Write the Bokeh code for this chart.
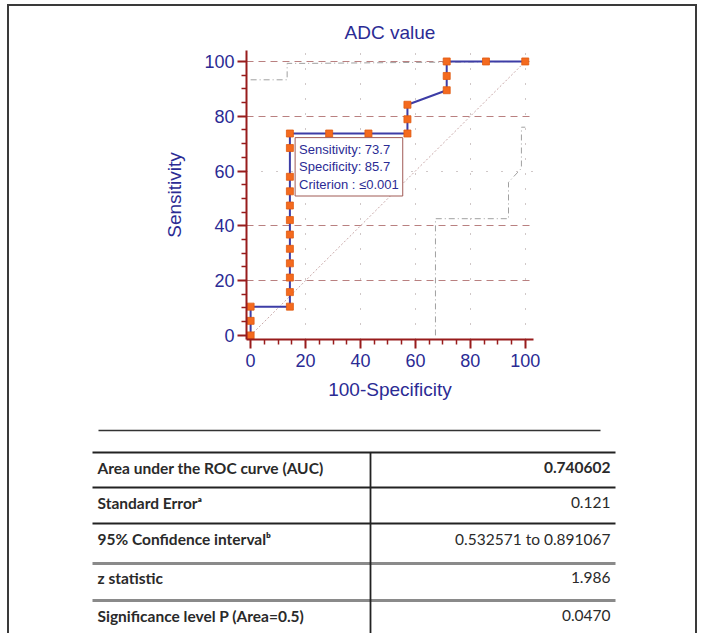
from bokeh.plotting import figure
from bokeh.models import Range1d, FixedTicker, Grid, Label
from bokeh.layouts import column
from bokeh.embed import file_html
from bokeh.resources import INLINE
from bokeh.core.properties import value

# ---------------- data ----------------
title_text = "ADC value"
x_label = "100-Specificity"
y_label = "Sensitivity"

# ROC curve points (100-Specificity, Sensitivity)
roc_x = [0, 0, 0, 14.3, 14.3, 14.3, 14.3, 14.3, 14.3, 14.3, 14.3, 14.3, 14.3, 14.3,
         14.3, 28.6, 42.9, 57.1, 57.1, 57.1, 71.4, 71.4, 71.4, 85.7, 100]
roc_y = [0, 5.3, 10.5, 10.5, 15.8, 21.1, 26.3, 31.6, 36.8, 42.1, 47.4, 52.6, 57.9, 68.4,
         73.7, 73.7, 73.7, 73.7, 78.9, 84.2, 89.5, 94.7, 100, 100, 100]

# confidence bounds (faint)
ci_low_x = [67.3, 67.3, 93.9, 93.9, 98.6, 98.6, 100]
ci_low_y = [0, 42.6, 42.6, 55.9, 61.0, 76.0, 76.0]
ci_up_x = [0, 13.3, 13.3, 21.0, 100]
ci_up_y = [93.3, 93.3, 99.3, 99.3, 100]

diag = [0, 100]
ticks = [0, 20, 40, 60, 80, 100]
minor = [5, 10, 15, 25, 30, 35, 45, 50, 55, 65, 70, 75, 85, 90, 95]
hgrid_dashed = [20, 40, 80, 100]
hgrid_dotted = [60]
vgrid = [20, 40, 60, 80, 100]

best_point = "Sensitivity: 73.7\nSpecificity: 85.7\nCriterion : \u22640.001"

table_labels = ["Area under the ROC curve (AUC)", "Standard Error\u1d43",
                "95% Confidence interval\u1d47", "z statistic",
                "Significance level P (Area=0.5)"]
table_values = ["0.740602", "0.121", "0.532571 to 0.891067", "1.986", "0.0470"]

# ---------------- styles ----------------
BLUE = "#2b2b94"
AXRED = "#981c1c"
CURVE = "#3d3da6"
ORANGE = "#f46a1f"
FONT = "Liberation Sans"

p = figure(width=686, height=414, x_range=Range1d(-1.5, 103), y_range=Range1d(-1.5, 104),
           output_backend="svg", toolbar_location=None, frame_align=False,
           min_border_left=237, min_border_right=162, min_border_top=44, min_border_bottom=81)
p.outline_line_color = None
p.background_fill_color = "white"
p.border_fill_color = "white"

p.title.text = title_text
p.title.align = "center"
p.title.text_font = FONT
p.title.text_font_size = "19px"
p.title.text_font_style = "normal"
p.title.text_color = BLUE
p.title.standoff = 16

for ax in (p.xaxis[0], p.yaxis[0]):
    ax.ticker = FixedTicker(ticks=ticks, minor_ticks=minor)
    ax.axis_line_color = AXRED
    ax.axis_line_width = 2
    ax.major_tick_line_color = AXRED
    ax.major_tick_line_width = 2
    ax.major_tick_out = 9
    ax.major_tick_in = 0
    ax.minor_tick_line_color = AXRED
    ax.minor_tick_line_width = 1.5
    ax.minor_tick_out = 5
    ax.minor_tick_in = 0
    ax.major_label_text_font = FONT
    ax.major_label_text_font_size = "18px"
    ax.major_label_text_color = BLUE
    ax.axis_label_text_font = FONT
    ax.axis_label_text_font_size = "19px"
    ax.axis_label_text_font_style = "normal"
    ax.axis_label_text_color = BLUE

p.xaxis.axis_label = x_label
p.yaxis.axis_label = y_label
p.xaxis.major_label_standoff = 5
p.xaxis.axis_label_standoff = 9
p.yaxis.major_label_standoff = 3
p.yaxis.axis_label_standoff = 16

p.xgrid.ticker = FixedTicker(ticks=vgrid)
p.xgrid.grid_line_color = "#a09090"
p.xgrid.grid_line_dash = "1 14"
p.xgrid.grid_line_width = 1
p.ygrid.ticker = FixedTicker(ticks=hgrid_dashed)
p.ygrid.grid_line_color = "#b98080"
p.ygrid.grid_line_dash = "7 5"
p.ygrid.grid_line_width = 1
g60 = Grid(dimension=1, ticker=FixedTicker(ticks=hgrid_dotted),
           grid_line_color="#a09090", grid_line_dash="1 14", grid_line_width=1)
p.add_layout(g60)

# diagonal
p.line(diag, diag, line_color="#c8a8a8", line_dash="2 2", line_width=1)
# confidence bounds
p.line(ci_low_x, ci_low_y, line_color="#a0a0a0", line_dash="6 3 1 3", line_width=1)
p.line(ci_up_x, ci_up_y, line_color="#a0a0a0", line_dash="6 3 1 3", line_width=1)

# ROC curve
p.line(roc_x, roc_y, line_color=CURVE, line_width=2)
p.scatter(roc_x, roc_y, marker="square", size=7, fill_color=ORANGE,
          line_color="#e05a10", line_width=0.8)

lab = Label(x=16.2, y=72.2, text=best_point, anchor="top_left",
            text_font=FONT, text_font_size="13px", text_color=BLUE,
            text_line_height=1.18, padding=4,
            background_fill_color="white", border_line_color="#a05a55",
            border_line_width=1)
p.add_layout(lab)

# ---------------- table ----------------
t = figure(width=686, height=213, x_range=Range1d(9, 695), y_range=Range1d(633, 420),
           output_backend="svg", toolbar_location=None, min_border=0, frame_align=False,
           x_axis_type=None, y_axis_type=None)
t.outline_line_color = None
t.xgrid.visible = False
t.ygrid.visible = False

row_mid = [467, 502, 538, 577, 615]
row_lines = [452, 487, 523]
row_lines_grey = [563, 600]

t.segment(x0=[98], y0=[430], x1=[600], y1=[430], line_color="#333333", line_width=1.5)
t.segment(x0=[92] * len(row_lines), y0=row_lines, x1=[615] * len(row_lines), y1=row_lines,
          line_color="#222222", line_width=1.8)
t.segment(x0=[92] * len(row_lines_grey), y0=row_lines_grey, x1=[615] * len(row_lines_grey),
          y1=row_lines_grey, line_color="#8a8a8a", line_width=3)
t.segment(x0=[370], y0=[452], x1=[370], y1=[633], line_color="#222222", line_width=1.8)

TFS = "15.5px"
t.text(x=[97] * len(table_labels), y=row_mid, text=table_labels,
       text_font=value("Lato"), text_font_style="bold", text_font_size=TFS,
       text_color="#2a2a2a", text_align="left", text_baseline="middle")
t.text(x=[610], y=row_mid[:1], text=table_values[:1],
       text_font=value("Lato"), text_font_style="bold", text_font_size=TFS,
       text_color="#2a2a2a", text_align="right", text_baseline="middle")
t.text(x=[610] * (len(table_values) - 1), y=row_mid[1:], text=table_values[1:],
       text_font=value("Lato"), text_font_size=TFS,
       text_color="#2a2a2a", text_align="right", text_baseline="middle")

layout = column(p, t, spacing=0,
                styles={"border-top": "2px solid #3a3a3a",
                        "border-left": "2px solid #3a3a3a",
                        "border-right": "2px solid #3a3a3a",
                        "margin-left": "7px", "margin-top": "4px"})

open("out.html", "w").write(file_html(layout, INLINE))
